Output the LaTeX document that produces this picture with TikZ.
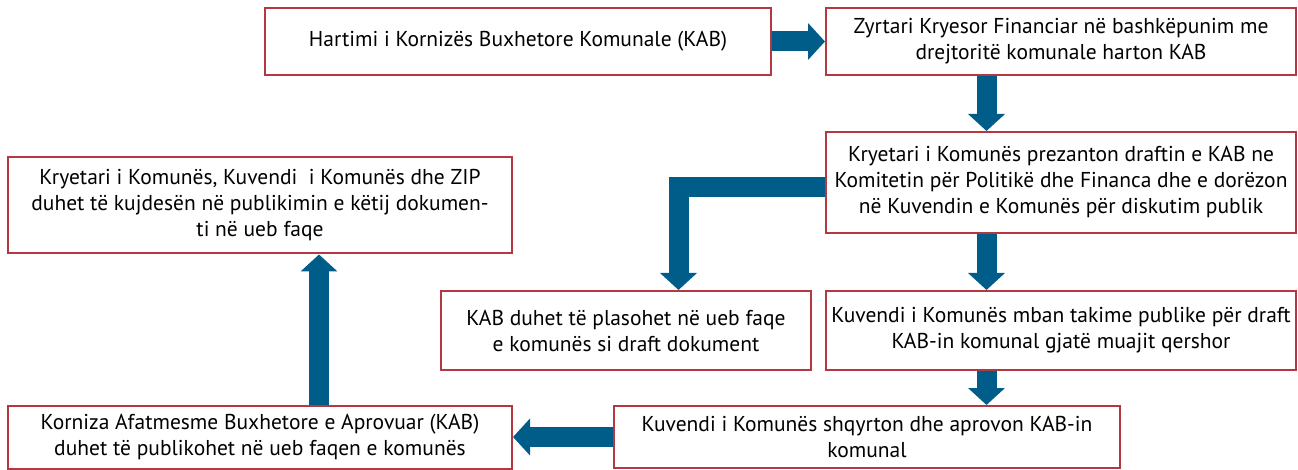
\documentclass[tikz,border=0pt]{standalone}
\usepackage{fontspec}
\setmainfont{PT Sans}
\usetikzlibrary{arrows.meta, positioning}
\definecolor{boxred}{RGB}{178,56,66}
\definecolor{flowblue}{RGB}{0,92,136}

\begin{document}
\begin{tikzpicture}[x=1pt, y=-1pt,
    box/.style={rectangle, draw=boxred, line width=2pt, fill=white, align=center, inner sep=3pt, font=\fontsize{21.5}{26}\selectfont},
    flow/.style={draw=flowblue, line width=20pt, line join=miter, -{Triangle[width=36pt, length=17pt]}}]
        \useasboundingbox (0,0) rectangle (1298,470);
        % right column
        \node[box, minimum width=506pt, minimum height=67pt] (hartimi) at (518,41.5) {Hartimi i Kornizës Buxhetore Komunale (KAB)};
        \node[box, minimum width=470pt, minimum height=67pt] (zkf) [right = 53pt of hartimi] {Zyrtari Kryesor Financiar në bashkëpunim me\\ drejtoritë komunale harton KAB};
        \node[box, minimum width=470pt, minimum height=101pt] (kryetari) [below = 55pt of zkf] {Kryetari i Komunës prezanton draftin e KAB ne\\ Komitetin për Politikë dhe Financa dhe e dorëzon\\ në Kuvendin e Komunës për diskutim publik};
        \node[box, minimum width=470pt, minimum height=79pt] (takimet) [below = 56pt of kryetari] {Kuvendi i Komunës mban takime publike për draft\\ KAB-in komunal gjatë muajit qershor};
        \node[box, minimum width=370pt, minimum height=79pt] (plasimi) [left = 13pt of takimet] {KAB duhet të plasohet në ueb faqe\\ e komunës si draft dokument};
        % bottom row
        \node[box, minimum width=506pt, minimum height=62pt] (aprovimi) at (867,437) {Kuvendi i Komunës shqyrton dhe aprovon KAB-in\\ komunal};
        \node[box, minimum width=504pt, minimum height=63pt] (korniza) [left = 100pt of aprovimi] {Korniza Afatmesme Buxhetore e Aprovuar (KAB)\\ duhet të publikohet në ueb faqen e komunës};
        \node[box, minimum width=504pt, minimum height=96pt] (zip) [above = 150pt of korniza] {Kryetari i Komunës, Kuvendi~ i Komunës dhe ZIP\\ duhet të kujdesën në publikimin e këtij dokumen-\\ ti në ueb faqe};
        
        \coordinate (rcol) at (986.5,0);
        \coordinate (knee) at (678.5,187.5);
        \coordinate (lcol) at (319,0);
        
        \draw[flow] (hartimi.east) -- (zkf.west);
        \draw[flow] (zkf.south -| rcol) -- (kryetari.north -| rcol);
        \draw[flow] (kryetari.south -| rcol) -- (takimet.north -| rcol);
        \draw[flow] (takimet.south -| rcol) -- (aprovimi.north -| rcol);
        \draw[flow] (kryetari.west |- knee) -- (knee) -- (plasimi.north -| knee);
        \draw[flow] (aprovimi.west) -- (korniza.east);
        \draw[flow] (korniza.north -| lcol) -- (zip.south -| lcol);
    \end{tikzpicture}
\end{document}
